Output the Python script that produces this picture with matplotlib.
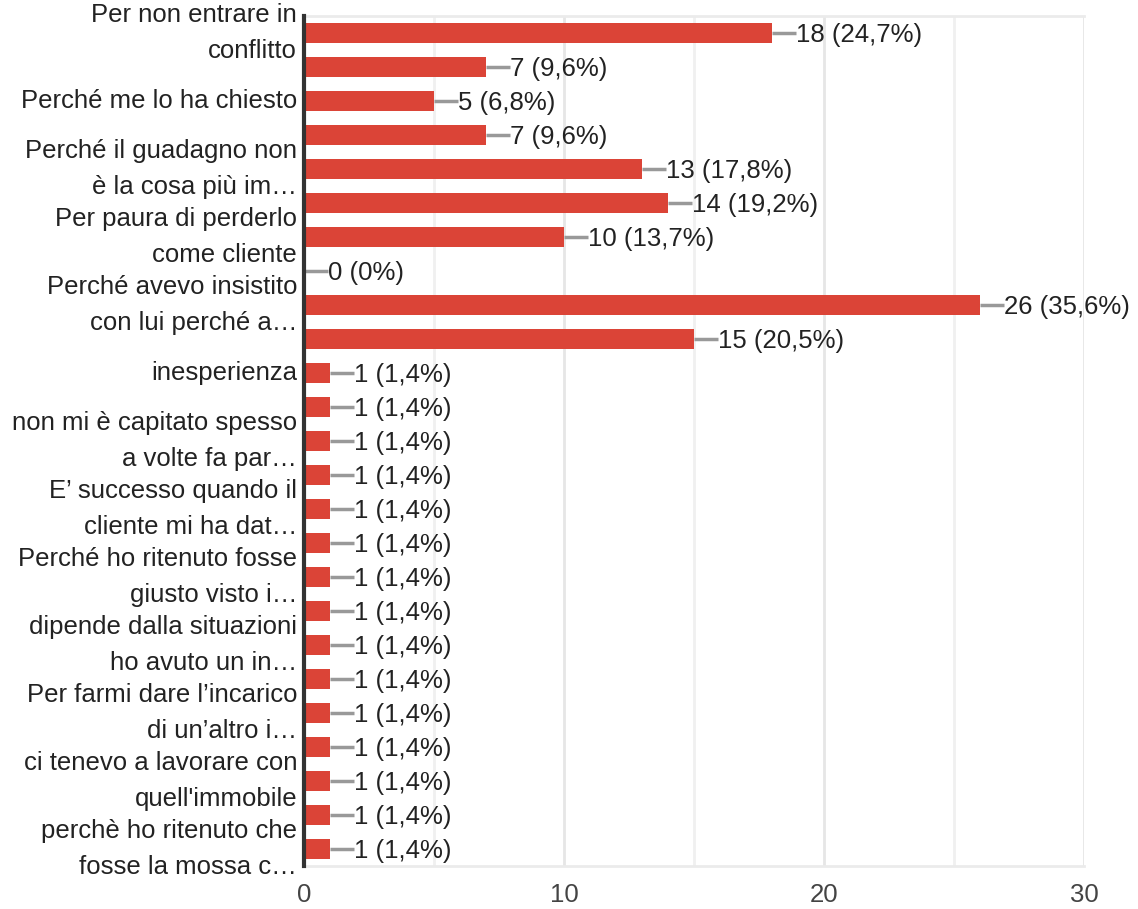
import matplotlib
matplotlib.use("Agg")
from matplotlib import pyplot as plt

# answers (only every other label is shown in the original chart)
labels = [
    "Per non entrare in\nconflitto", "",
    "Perché me lo ha chiesto", "",
    "Perché il guadagno non\nè la cosa più im…", "",
    "Per paura di perderlo\ncome cliente", "",
    "Perché avevo insistito\ncon lui perché a…", "",
    "inesperienza", "",
    "non mi è capitato spesso\na volte fa par…", "",
    "E’ successo quando il\ncliente mi ha dat…", "",
    "Perché ho ritenuto fosse\ngiusto visto i…", "",
    "dipende dalla situazioni\nho avuto un in…", "",
    "Per farmi dare l’incarico\ndi un’altro i…", "",
    "ci tenevo a lavorare con\nquell'immobile", "",
    "perchè ho ritenuto che\nfosse la mossa c…",
]
counts = [18, 7, 5, 7, 13, 14, 10, 0, 26, 15,
          1, 1, 1, 1, 1, 1, 1, 1, 1, 1, 1, 1, 1, 1, 1]
percents = ["24,7", "9,6", "6,8", "9,6", "17,8", "19,2", "13,7", "0", "35,6", "20,5",
            "1,4", "1,4", "1,4", "1,4", "1,4", "1,4", "1,4", "1,4", "1,4", "1,4",
            "1,4", "1,4", "1,4", "1,4", "1,4"]
xticks = [0, 10, 20, 30]

plt.rcParams["font.family"] = ["Liberation Sans", "DejaVu Sans"]
FS = 18.5

W, H = 1138, 909
fig = plt.figure(figsize=(W / 100, H / 100), dpi=100)
ax = fig.add_axes([304 / W, 1 - 866 / H, (1084 - 304) / W, (866 - 16) / H])

n = len(counts)
pos = list(range(n))
ax.barh(pos, counts, height=0.6, color="#db4437", zorder=3)

for y, c, p in zip(pos, counts, percents):
    ax.plot([c, c + 0.92], [y, y], color="#999999", lw=2.5, zorder=3,
            solid_capstyle="butt")
    ax.text(c + 0.94, y + 0.05, f"{c} ({p}%)", va="center", ha="left",
            fontsize=FS, color="#222222", zorder=4)

ax.set_ylim(n - 0.5, -0.5)
ax.set_xlim(0, 30)
ax.set_yticks(pos)
ax.set_yticklabels(labels, fontsize=FS, color="#222222", linespacing=1.58)
for t in ax.get_yticklabels():
    t.set_verticalalignment("center")
ax.set_xticks(xticks)
ax.set_xticklabels([str(x) for x in xticks], fontsize=FS, color="#444444")
ax.set_xticks([5, 15, 25], minor=True)
ax.tick_params(axis="y", length=0, pad=5)
ax.tick_params(axis="x", which="both", length=0, pad=12)

ax.grid(axis="x", which="major", color="#e6e6e6", lw=2, zorder=0)
ax.grid(axis="x", which="minor", color="#f0f0f0", lw=2, zorder=0)
ax.set_axisbelow(True)

ax.spines["left"].set_color("#333333")
ax.spines["left"].set_linewidth(3)
ax.spines["left"].set_zorder(5)
for s in ["top", "bottom"]:
    ax.spines[s].set_color("#ebebeb")
    ax.spines[s].set_linewidth(2)
ax.spines["right"].set_visible(False)

fig.savefig("out.png", dpi=100)
